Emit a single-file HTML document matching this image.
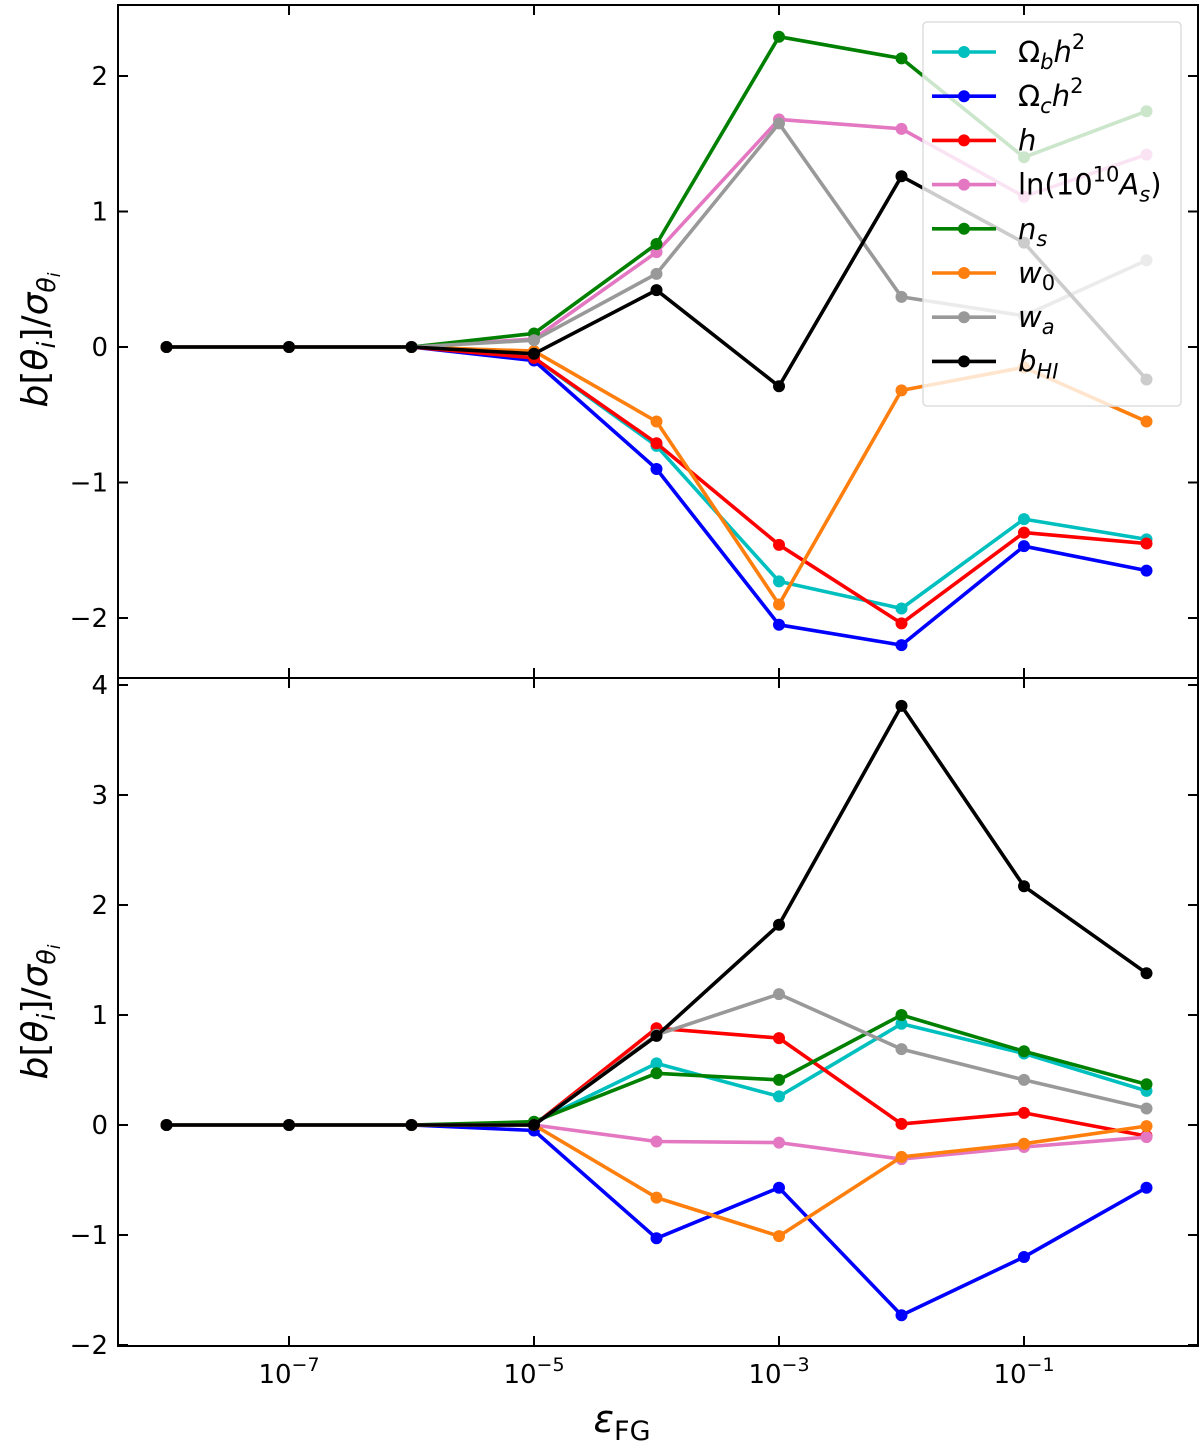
<!DOCTYPE html>
<html><head><meta charset="utf-8"><style>
body{margin:0;background:#fff}
svg{display:block}
text{font-family:"DejaVu Sans","Liberation Sans",sans-serif;fill:#000}
</style></head><body>
<svg id="c" width="1200" height="1445" xmlns="http://www.w3.org/2000/svg"></svg>
<script>
const xLogs=[-8,-7,-6,-5,-4,-3,-2,-1,0];
const seriesNames=["Obh2","Och2","h","lnAs","ns","w0","wa","bHI"];
const seriesColors=["#00bfbf","#0000ff","#ff0000","#e377c2","#008000","#ff7f0e","#999999","#000000"];
const topOb=[0,0,0,-0.08,-0.73,-1.73,-1.93,-1.27,-1.42];
const topOc=[0,0,0,-0.1,-0.90,-2.05,-2.20,-1.47,-1.65];
const topH=[0,0,0,-0.08,-0.71,-1.46,-2.04,-1.37,-1.45];
const topLn=[0,0,0,0.06,0.70,1.68,1.61,1.11,1.42];
const topNs=[0,0,0,0.10,0.76,2.29,2.13,1.40,1.74];
const topW0=[0,0,0,-0.03,-0.55,-1.90,-0.32,-0.15,-0.55];
const topWa=[0,0,0,0.05,0.54,1.65,0.37,0.23,0.64];
const topB=[0,0,0,-0.05,0.42,-0.29,1.26,0.77,-0.24];
const botOb=[0,0,0,0.02,0.56,0.26,0.92,0.65,0.31];
const botOc=[0,0,0,-0.05,-1.03,-0.57,-1.73,-1.20,-0.57];
const botH=[0,0,0,0,0.88,0.79,0.01,0.11,-0.10];
const botLn=[0,0,0,0,-0.15,-0.16,-0.31,-0.20,-0.11];
const botNs=[0,0,0,0.03,0.47,0.41,1.00,0.67,0.37];
const botW0=[0,0,0,0,-0.66,-1.01,-0.29,-0.17,-0.01];
const botWa=[0,0,0,0,0.82,1.19,0.69,0.41,0.15];
const botB=[0,0,0,0,0.81,1.82,3.81,2.17,1.38];
const topTicks=[-2,-1,0,1,2];
const botTicks=[-2,-1,0,1,2,3,4];
const xTickLogs=[-7,-5,-3,-1];
const xTickLabels=["-7","-5","-3","-1"];

const NS="http://www.w3.org/2000/svg";
const svg=document.getElementById('c');
function el(t,a,p){const e=document.createElementNS(NS,t);for(const k in a)e.setAttribute(k,a[k]);(p||svg).appendChild(e);return e;}
const L=118,R=1198;
const xs=v=>289+(v+7)*122.5;
function yTop(v){return 347-v*135.5;}
function yBot(v){return 1125-v*110;}

function panel(name,y0,y1,ys,ticks,data){
  const g=el('g',{});
  
  
  data.forEach((arr,i)=>{
    const pts=arr.map((v,j)=>xs(xLogs[j]).toFixed(1)+','+ys(v).toFixed(1)).join(' ');
    const pl=el('polyline',{points:pts,fill:'none',stroke:seriesColors[i],'stroke-width':3.6,'stroke-linejoin':'round'},g);
    
    
    arr.forEach((v,j)=>{
      const c=el('circle',{cx:xs(xLogs[j]),cy:ys(v),r:6,fill:seriesColors[i]},g);
      
      
    });
  });
  ticks.forEach(t=>{
    const y=ys(t);
    el('line',{x1:L,x2:L+10,y1:y,y2:y,stroke:'#000','stroke-width':2},g);
    el('line',{x1:R-10,x2:R,y1:y,y2:y,stroke:'#000','stroke-width':2},g);
    const tx=el('text',{x:L-10,y:y+9,'text-anchor':'end','font-size':26},g);
    tx.textContent=(t<0?'\u2212':'')+Math.abs(t);
    
    
  });
  xTickLogs.forEach(v=>{
    const x=xs(v);
    el('line',{x1:x,x2:x,y1:y0,y2:y0+10,stroke:'#000','stroke-width':2},g);
    el('line',{x1:x,x2:x,y1:y1-10,y2:y1,stroke:'#000','stroke-width':2},g);
  });
  el('rect',{x:L,y:y0,width:R-L,height:y1-y0,fill:'none',stroke:'#000','stroke-width':2},g);
  return g;
}
panel('top-panel',5,678,yTop,topTicks,[topOb,topOc,topH,topLn,topNs,topW0,topWa,topB]);
panel('bottom-panel',678,1346,yBot,botTicks,[botOb,botOc,botH,botLn,botNs,botW0,botWa,botB]);

xTickLogs.forEach((v,i)=>{
  const t=el('text',{x:xs(v),y:1383,'text-anchor':'middle','font-size':26});
  t.innerHTML='10<tspan dy="-12" font-size="19">'+xTickLabels[i].replace('-','\u2212')+'</tspan>';
  
  
});

const lg=el('g',{});


el('rect',{x:923,y:22,width:258,height:384,rx:4,fill:'#fff','fill-opacity':0.8,stroke:'#ddd','stroke-width':1.5},lg);
const labels=['Ω<tspan font-style="italic" font-size="21" dy="7">b</tspan><tspan font-style="italic" dy="-7">h</tspan><tspan font-size="21" dy="-13">2</tspan>',
'Ω<tspan font-style="italic" font-size="21" dy="7">c</tspan><tspan font-style="italic" dy="-7">h</tspan><tspan font-size="21" dy="-13">2</tspan>',
'<tspan font-style="italic">h</tspan>',
'ln(10<tspan font-size="21" dy="-13">10</tspan><tspan font-style="italic" dy="13">A</tspan><tspan font-style="italic" font-size="21" dy="7">s</tspan><tspan dy="-7">)</tspan>',
'<tspan font-style="italic">n</tspan><tspan font-style="italic" font-size="21" dy="7">s</tspan>',
'<tspan font-style="italic">w</tspan><tspan font-size="21" dy="7">0</tspan>',
'<tspan font-style="italic">w</tspan><tspan font-style="italic" font-size="21" dy="7">a</tspan>',
'<tspan font-style="italic">b</tspan><tspan font-style="italic" font-size="21" dy="7">HI</tspan>'];
seriesNames.forEach((n,i)=>{
  const y=52+i*44.2;
  const e=el('g',{},lg);
  
  
  el('line',{x1:932,x2:996,y1:y,y2:y,stroke:seriesColors[i],'stroke-width':3.6},e);
  el('circle',{cx:964,cy:y,r:6,fill:seriesColors[i]},e);
  const t=el('text',{x:1018,y:y+10,'font-size':29},e);
  t.innerHTML=labels[i];
});

function ylab(cy,name){
  const t=el('text',{x:0,y:0,'font-size':36,'text-anchor':'middle',transform:'translate(47,'+cy+') rotate(-90)'});
  t.innerHTML='<tspan font-style="italic">b</tspan>[<tspan font-style="italic">θ</tspan><tspan font-style="italic" font-size="25" dy="8">i</tspan><tspan dy="-8">]/</tspan><tspan font-style="italic">σ</tspan><tspan font-style="italic" font-size="25" dy="8">θ</tspan><tspan font-style="italic" font-size="17" dy="5">i</tspan>';
  
  
}
ylab(340,'y-axis-title-top');
ylab(1012,'y-axis-title-bottom');
const xl=el('text',{x:622,y:1432,'text-anchor':'middle','font-size':38});
xl.innerHTML='<tspan font-style="italic">ε</tspan><tspan font-size="27" dy="8">FG</tspan>';


</script>
</body></html>
